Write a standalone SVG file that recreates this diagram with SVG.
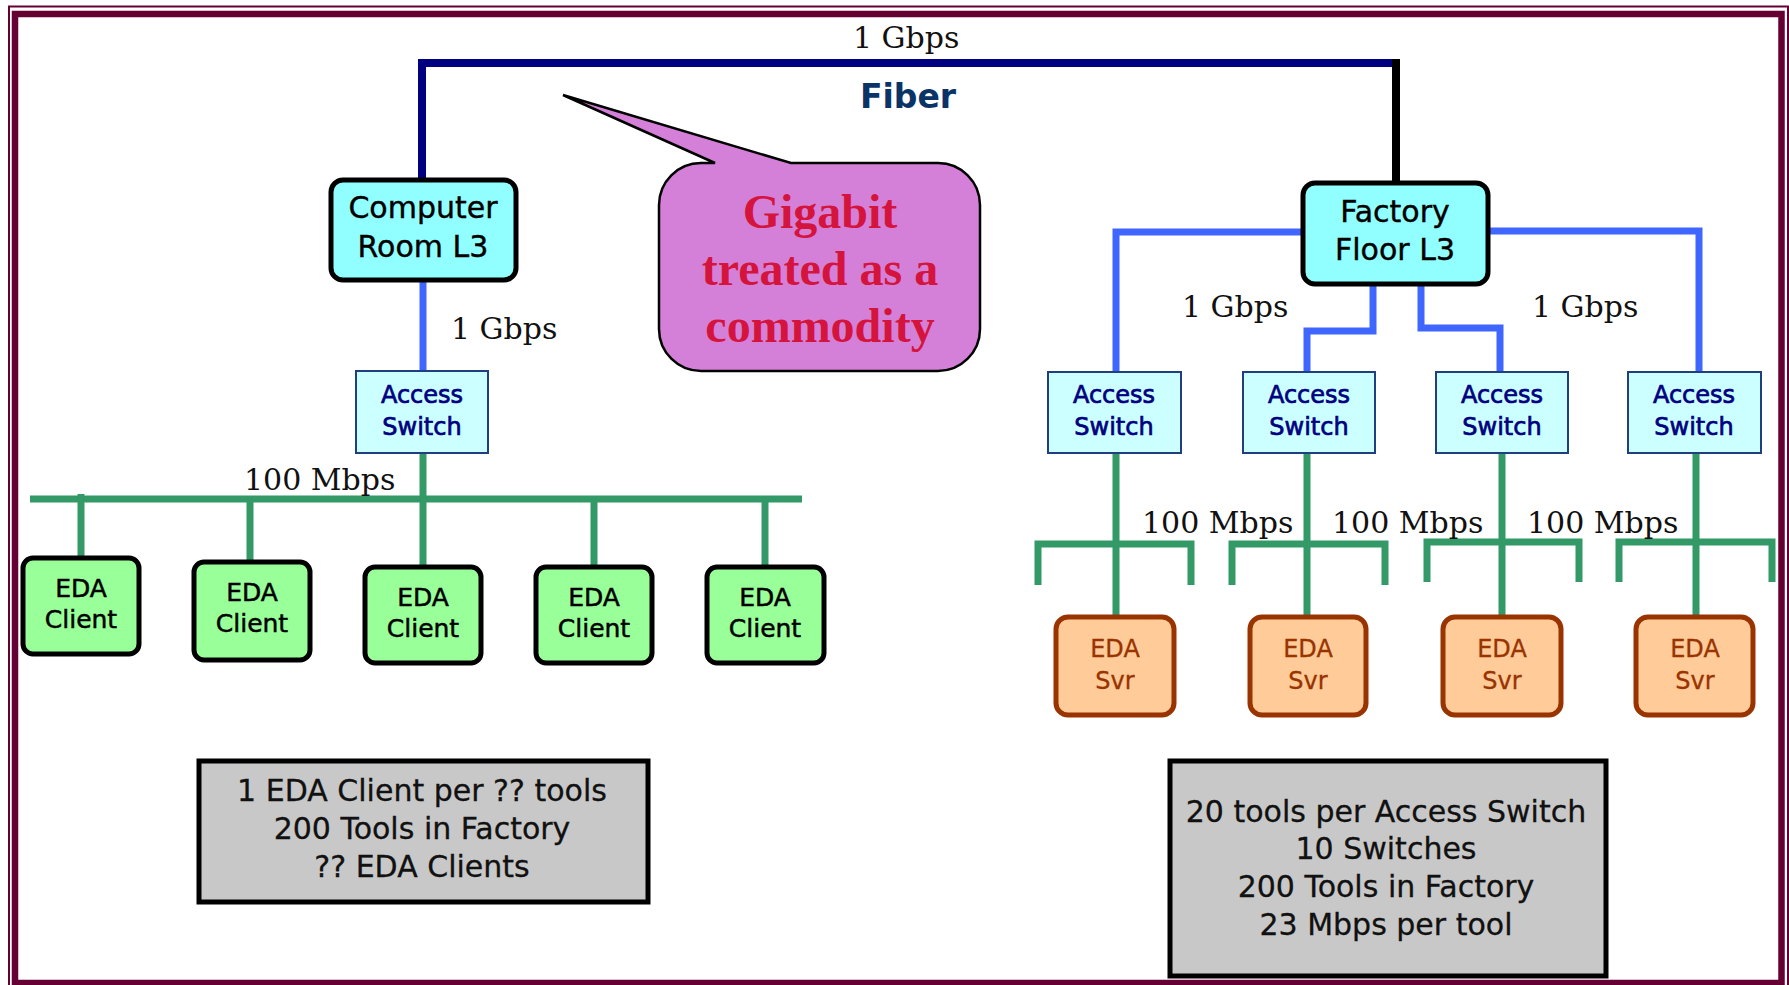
<svg xmlns="http://www.w3.org/2000/svg" width="1789" height="985" viewBox="0 0 1789 985">
<style>
.sans{font-family:"DejaVu Sans","Liberation Sans",sans-serif}
.serif{font-family:"DejaVu Serif","Liberation Serif",serif;font-size:30px;fill:#111}
.l3{fill:#91FFFF;stroke:#000;stroke-width:5}
.l3t{font-size:30px;fill:#000;stroke:#000;stroke-width:0.4;text-anchor:middle}
.acc{fill:#CCFFFF;stroke:#1F3F7F;stroke-width:2}
.acct{font-size:24px;fill:#000080;stroke:#000080;stroke-width:0.7;text-anchor:middle}
.cli{fill:#99FF99;stroke:#000;stroke-width:5}
.clit{font-size:25px;fill:#000;stroke:#000;stroke-width:0.5;text-anchor:middle}
.svr{fill:#FFCC99;stroke:#993300;stroke-width:5}
.svrt{font-size:24px;fill:#993300;stroke:#993300;stroke-width:0.3;text-anchor:middle}
.sum{fill:#C8C8C8;stroke:#000;stroke-width:5}
.sumt{font-size:30px;fill:#111;stroke:#111;stroke-width:0.3;text-anchor:middle}
.blue{fill:none;stroke:#3F66FF;stroke-width:7}
.green{fill:none;stroke:#339966;stroke-width:7}
</style>
<rect x="0" y="0" width="1789" height="985" fill="#fff"/>

<g id="connectors">
  <path d="M422 180 V63 H1392" fill="none" stroke="#000080" stroke-width="8"/>
  <path d="M1396 59 V185" fill="none" stroke="#000" stroke-width="8"/>
  <path class="blue" d="M423 280 V371"/>
  <path class="blue" d="M1305 232 H1116 V372"/>
  <path class="blue" d="M1486 231 H1699 V372"/>
  <path class="blue" d="M1373 284 V331 H1307 V372"/>
  <path class="blue" d="M1421 284 V328 H1500 V374"/>
  <path class="green" d="M30 499 H802"/>
  <path class="green" d="M423 453 V567"/>
  <path class="green" d="M81 494 V558"/>
  <path class="green" d="M250 499 V562"/>
  <path class="green" d="M594 499 V567"/>
  <path class="green" d="M765 499 V567"/>
  <path class="green" d="M1116 453 V617"/>
  <path class="green" d="M1038 585 V544 H1191 V585"/>
  <path class="green" d="M1307 453 V617"/>
  <path class="green" d="M1232 585 V544 H1385 V585"/>
  <path class="green" d="M1502 453 V617"/>
  <path class="green" d="M1427 582 V542 H1579 V582"/>
  <path class="green" d="M1696 453 V617"/>
  <path class="green" d="M1619 582 V542 H1772 V582"/>
</g>

<g id="labels">
  <text class="serif" x="853" y="48">1 Gbps</text>
  <text class="sans" x="860" y="108" font-size="33" font-weight="bold" fill="#0A3366">Fiber</text>
  <text class="serif" x="451" y="339">1 Gbps</text>
  <text class="serif" x="1182" y="317">1 Gbps</text>
  <text class="serif" x="1532" y="317">1 Gbps</text>
  <text class="serif" x="244" y="490">100 Mbps</text>
  <text class="serif" x="1142" y="533">100 Mbps</text>
  <text class="serif" x="1332" y="533">100 Mbps</text>
  <text class="serif" x="1527" y="533">100 Mbps</text>
</g>

<g id="callout">
  <path d="M701 163 L715 163 L563 95 L791 163 L938 163 A42 42 0 0 1 980 205 L980 329 A42 42 0 0 1 938 371 L701 371 A42 42 0 0 1 659 329 L659 205 A42 42 0 0 1 701 163 Z" fill="#D580D8" stroke="#000" stroke-width="2.5"/>
  <g font-family="'Liberation Serif','Times New Roman',serif" font-size="48" font-weight="bold" fill="#D4143C" text-anchor="middle">
    <text x="820" y="228">Gigabit</text>
    <text x="820" y="285">treated as a</text>
    <text x="820" y="342">commodity</text>
  </g>
</g>

<g id="computer-room-l3">
  <rect class="l3" x="331" y="180" width="185" height="100" rx="12"/>
  <text class="sans l3t" x="423" y="218">Computer</text>
  <text class="sans l3t" x="423" y="257">Room L3</text>
</g>
<g id="factory-floor-l3">
  <rect class="l3" x="1303" y="183" width="185" height="101" rx="12"/>
  <text class="sans l3t" x="1395" y="222">Factory</text>
  <text class="sans l3t" x="1395" y="260">Floor L3</text>
</g>

<g id="access-switch-cr">
  <rect class="acc" x="356" y="371" width="132" height="82"/>
  <text class="sans acct" x="422" y="403">Access</text>
  <text class="sans acct" x="422" y="435">Switch</text>
</g>
<g id="access-switch-1">
  <rect class="acc" x="1048" y="372" width="133" height="81"/>
  <text class="sans acct" x="1114" y="403">Access</text>
  <text class="sans acct" x="1114" y="435">Switch</text>
</g>
<g id="access-switch-2">
  <rect class="acc" x="1243" y="372" width="132" height="81"/>
  <text class="sans acct" x="1309" y="403">Access</text>
  <text class="sans acct" x="1309" y="435">Switch</text>
</g>
<g id="access-switch-3">
  <rect class="acc" x="1436" y="372" width="132" height="81"/>
  <text class="sans acct" x="1502" y="403">Access</text>
  <text class="sans acct" x="1502" y="435">Switch</text>
</g>
<g id="access-switch-4">
  <rect class="acc" x="1628" y="372" width="133" height="81"/>
  <text class="sans acct" x="1694" y="403">Access</text>
  <text class="sans acct" x="1694" y="435">Switch</text>
</g>

<g id="eda-client-1">
  <rect class="cli" x="23" y="558" width="116" height="96" rx="10"/>
  <text class="sans clit" x="81" y="597">EDA</text>
  <text class="sans clit" x="81" y="628">Client</text>
</g>
<g id="eda-client-2">
  <rect class="cli" x="194" y="562" width="116" height="98" rx="10"/>
  <text class="sans clit" x="252" y="601">EDA</text>
  <text class="sans clit" x="252" y="632">Client</text>
</g>
<g id="eda-client-3">
  <rect class="cli" x="365" y="567" width="116" height="96" rx="10"/>
  <text class="sans clit" x="423" y="606">EDA</text>
  <text class="sans clit" x="423" y="637">Client</text>
</g>
<g id="eda-client-4">
  <rect class="cli" x="536" y="567" width="116" height="96" rx="10"/>
  <text class="sans clit" x="594" y="606">EDA</text>
  <text class="sans clit" x="594" y="637">Client</text>
</g>
<g id="eda-client-5">
  <rect class="cli" x="707" y="567" width="117" height="96" rx="10"/>
  <text class="sans clit" x="765" y="606">EDA</text>
  <text class="sans clit" x="765" y="637">Client</text>
</g>

<g id="eda-svr-1">
  <rect class="svr" x="1056" y="617" width="118" height="98" rx="12"/>
  <text class="sans svrt" x="1115" y="657">EDA</text>
  <text class="sans svrt" x="1115" y="689">Svr</text>
</g>
<g id="eda-svr-2">
  <rect class="svr" x="1250" y="617" width="116" height="98" rx="12"/>
  <text class="sans svrt" x="1308" y="657">EDA</text>
  <text class="sans svrt" x="1308" y="689">Svr</text>
</g>
<g id="eda-svr-3">
  <rect class="svr" x="1443" y="617" width="118" height="98" rx="12"/>
  <text class="sans svrt" x="1502" y="657">EDA</text>
  <text class="sans svrt" x="1502" y="689">Svr</text>
</g>
<g id="eda-svr-4">
  <rect class="svr" x="1636" y="617" width="117" height="98" rx="12"/>
  <text class="sans svrt" x="1695" y="657">EDA</text>
  <text class="sans svrt" x="1695" y="689">Svr</text>
</g>

<g id="summary-left">
  <rect class="sum" x="199" y="761" width="449" height="141"/>
  <text class="sans sumt" x="422" y="801">1 EDA Client per ?? tools</text>
  <text class="sans sumt" x="422" y="839">200 Tools in Factory</text>
  <text class="sans sumt" x="422" y="877">?? EDA Clients</text>
</g>
<g id="summary-right">
  <rect class="sum" x="1170" y="761" width="436" height="215"/>
  <text class="sans sumt" x="1386" y="822">20 tools per Access Switch</text>
  <text class="sans sumt" x="1386" y="859">10 Switches</text>
  <text class="sans sumt" x="1386" y="897">200 Tools in Factory</text>
  <text class="sans sumt" x="1386" y="935">23 Mbps per tool</text>
</g>

<g id="frame" fill="none" stroke="#660033">
  <rect x="9" y="6.5" width="1779" height="995" stroke-width="2"/>
  <rect x="15" y="14" width="1766.5" height="969" stroke-width="6.5"/>
</g>
</svg>
